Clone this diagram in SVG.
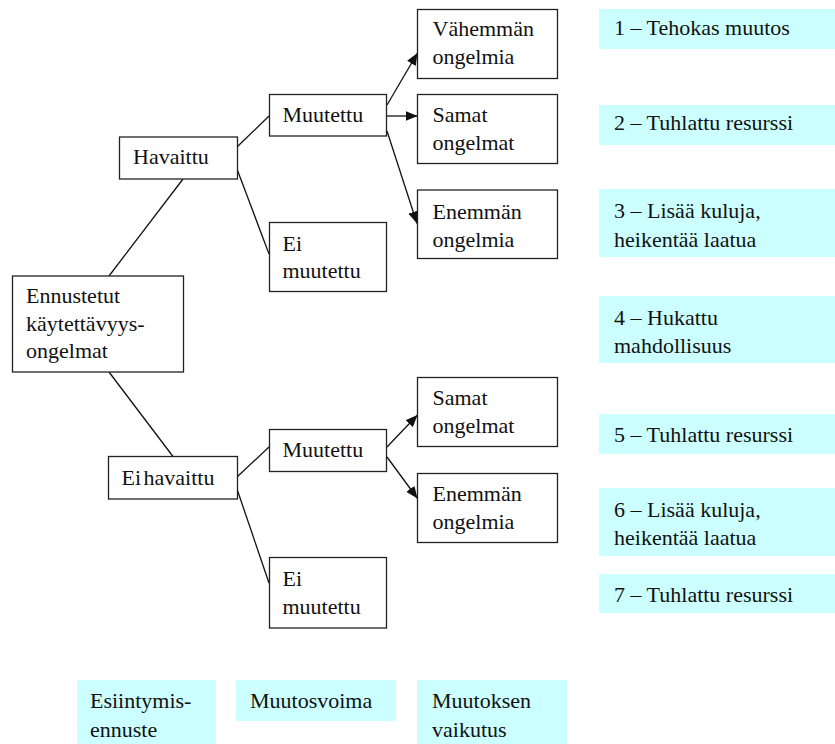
<svg xmlns="http://www.w3.org/2000/svg" width="835" height="744" viewBox="0 0 835 744">
  <style>
    text { font-family: "Liberation Serif", "Times New Roman", serif; font-size: 22px; fill: #111; }
    .box { fill: #fff; stroke: #222; stroke-width: 1.3; }
    .note { fill: #ccffff; stroke: none; }
    .link { stroke: #111; stroke-width: 1.3; fill: none; }
    .arrow { stroke: #111; stroke-width: 1.3; fill: none; marker-end: url(#head); }
  </style>
  <defs>
    <marker id="head" viewBox="0 0 12 10" refX="12" refY="5" markerWidth="12" markerHeight="10" markerUnits="userSpaceOnUse" orient="auto">
      <path d="M0,0 L12,5 L0,10 Z" fill="#111"/>
    </marker>
  </defs>

  <!-- connectors -->
  <g id="connectors">
    <line class="link" x1="109" y1="276" x2="183" y2="179"/>
    <line class="link" x1="109" y1="372" x2="173" y2="456.5"/>
    <line class="link" x1="237" y1="147" x2="269" y2="116"/>
    <line class="link" x1="237" y1="169" x2="269" y2="254"/>
    <line class="link" x1="237" y1="477" x2="269" y2="447"/>
    <line class="link" x1="237" y1="489" x2="269" y2="583"/>
    <line class="arrow" x1="387" y1="105" x2="417.5" y2="53"/>
    <line class="arrow" x1="387" y1="116" x2="417.5" y2="116"/>
    <line class="arrow" x1="387" y1="131" x2="417" y2="223.5"/>
    <line class="arrow" x1="387" y1="447" x2="417.5" y2="415"/>
    <line class="arrow" x1="387" y1="457" x2="417.5" y2="498.5"/>
  </g>

  <!-- tree nodes -->
  <g id="n-ennustetut">
    <rect class="box" x="12.5" y="276" width="171" height="96"/>
    <text x="26" y="303">Ennustetut</text>
    <text x="26" y="330.5">käytettävyys-</text>
    <text x="26" y="358">ongelmat</text>
  </g>
  <g id="n-havaittu">
    <rect class="box" x="119.5" y="137" width="118" height="42"/>
    <text x="133" y="163.5">Havaittu</text>
  </g>
  <g id="n-ei-havaittu">
    <rect class="box" x="108.5" y="456.5" width="129" height="42.5"/>
    <text x="121.5" y="485" word-spacing="-3">Ei havaittu</text>
  </g>
  <g id="n-muutettu-1">
    <rect class="box" x="269.5" y="94.5" width="117" height="41.5"/>
    <text x="282.5" y="122">Muutettu</text>
  </g>
  <g id="n-ei-muutettu-1">
    <rect class="box" x="269.5" y="222.5" width="117" height="69"/>
    <text x="282.5" y="250.5">Ei</text>
    <text x="282.5" y="278">muutettu</text>
  </g>
  <g id="n-muutettu-2">
    <rect class="box" x="269.5" y="429.5" width="117" height="42"/>
    <text x="282.5" y="457">Muutettu</text>
  </g>
  <g id="n-ei-muutettu-2">
    <rect class="box" x="269.5" y="557.5" width="117" height="70.5"/>
    <text x="282.5" y="586">Ei</text>
    <text x="282.5" y="614">muutettu</text>
  </g>
  <g id="n-vahemman">
    <rect class="box" x="417.5" y="9.5" width="140" height="69"/>
    <text x="432.5" y="36">Vähemmän</text>
    <text x="432.5" y="63.5">ongelmia</text>
  </g>
  <g id="n-samat-1">
    <rect class="box" x="417.5" y="94.5" width="140" height="69"/>
    <text x="432.5" y="122">Samat</text>
    <text x="432.5" y="149.5">ongelmat</text>
  </g>
  <g id="n-enemman-1">
    <rect class="box" x="417.5" y="190" width="140" height="68.5"/>
    <text x="432.5" y="218.5">Enemmän</text>
    <text x="432.5" y="246.5">ongelmia</text>
  </g>
  <g id="n-samat-2">
    <rect class="box" x="417.5" y="377.5" width="140" height="69"/>
    <text x="432.5" y="405">Samat</text>
    <text x="432.5" y="432.5">ongelmat</text>
  </g>
  <g id="n-enemman-2">
    <rect class="box" x="417.5" y="473.5" width="140" height="69"/>
    <text x="432.5" y="501">Enemmän</text>
    <text x="432.5" y="529">ongelmia</text>
  </g>

  <!-- outcome notes -->
  <g id="o1">
    <rect class="note" x="599" y="9" width="236" height="40"/>
    <text x="614" y="35">1 – Tehokas muutos</text>
  </g>
  <g id="o2">
    <rect class="note" x="599" y="105" width="236" height="40"/>
    <text x="614" y="130">2 – Tuhlattu resurssi</text>
  </g>
  <g id="o3">
    <rect class="note" x="599" y="189" width="236" height="68"/>
    <text x="614" y="218">3 – Lisää kuluja,</text>
    <text x="614" y="246.5">heikentää laatua</text>
  </g>
  <g id="o4">
    <rect class="note" x="599" y="296" width="236" height="67"/>
    <text x="614" y="325">4 – Hukattu</text>
    <text x="614" y="353">mahdollisuus</text>
  </g>
  <g id="o5">
    <rect class="note" x="599" y="414" width="236" height="40"/>
    <text x="614" y="441.5">5 – Tuhlattu resurssi</text>
  </g>
  <g id="o6">
    <rect class="note" x="599" y="488" width="236" height="68"/>
    <text x="614" y="516.5">6 – Lisää kuluja,</text>
    <text x="614" y="544.5">heikentää laatua</text>
  </g>
  <g id="o7">
    <rect class="note" x="599" y="574" width="236" height="39"/>
    <text x="614" y="601.5">7 – Tuhlattu resurssi</text>
  </g>

  <!-- column captions -->
  <g id="c-esiintymis">
    <rect class="note" x="77" y="680" width="139" height="64"/>
    <text x="90" y="708">Esiintymis-</text>
    <text x="90" y="736.5">ennuste</text>
  </g>
  <g id="c-muutosvoima">
    <rect class="note" x="236" y="680" width="160" height="41"/>
    <text x="250" y="708">Muutosvoima</text>
  </g>
  <g id="c-muutoksen">
    <rect class="note" x="417" y="680" width="150" height="64"/>
    <text x="432" y="708">Muutoksen</text>
    <text x="432" y="736.5">vaikutus</text>
  </g>
</svg>
